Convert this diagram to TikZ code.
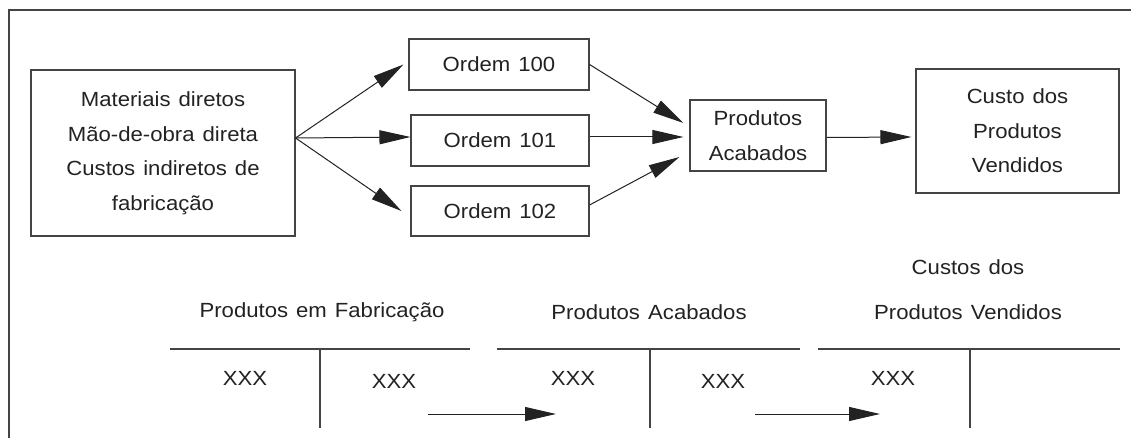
\documentclass[tikz,border=0pt]{standalone}
\usepackage{fontspec}
\setmainfont{Liberation Sans}[FakeStretch=1.08, WordSpace=1.3]
\usetikzlibrary{arrows.meta}
\definecolor{ink}{HTML}{222222}
\definecolor{rule}{HTML}{444444}
\tikzset{
  box/.style={draw=rule, line width=1.1pt, inner sep=0pt, align=center, text=ink,
    font=\fontsize{20.5}{34.5}\selectfont},
  arr/.style={draw=ink, line width=1pt, -{Triangle[length=31pt,width=14pt]}},
  lbl/.style={inner sep=0pt, align=center, text=ink, font=\fontsize{20.5}{45}\selectfont},
  tline/.style={draw=rule, line width=1.2pt},
  frameline/.style={draw=rule, line width=2pt}
}
\begin{document}
\begin{tikzpicture}[x=1pt,y=-1pt]
\useasboundingbox (0,0) rectangle (1131,438);
% frame
\draw[frameline] (1131,10) -- (9,10) -- (9,438);

% top flow
\node[box, minimum width=264pt, minimum height=166pt] (m) at (163,153)
  {Materiais diretos\\Mão-de-obra direta\\Custos indiretos de\\fabricação};
\node[box, minimum width=180pt, minimum height=51pt] (o100) at (499,64.5) {Ordem 100};
\node[box, minimum width=178pt, minimum height=51pt] (o101) at (500,140.5) {Ordem 101};
\node[box, minimum width=178pt, minimum height=50pt] (o102) at (500,211) {Ordem 102};
\node[box, minimum width=136pt, minimum height=71pt] (pa) at (758,135.5) {Produtos\\Acabados};
\node[box, minimum width=203pt, minimum height=124pt] (cpv) at (1017.5,131) {Custo dos\\Produtos\\Vendidos};

\coordinate (src) at ([yshift=15pt]m.east);
\draw[arr] (src) -- ([xshift=-5pt]o100.west);
\draw[arr] (src) -- ([yshift=3.5pt]o101.west);
\draw[arr] (src) -- ([xshift=-9pt]o102.west);

\draw[arr] (o100.east) -- ([xshift=-6pt,yshift=12.5pt]pa.west);
\draw[arr] ([yshift=3.5pt]o101.east) -- ([xshift=-6pt,yshift=-1.5pt]pa.west);
\draw[arr] ([yshift=6pt]o102.east) -- ([xshift=-10pt,yshift=-21.5pt]pa.west);

\draw[arr] ([yshift=-2pt]pa.east) -- ([xshift=-4pt,yshift=-6pt]cpv.west);

% T-accounts
\node[lbl] (t1) at (322,312) {Produtos em Fabricação};
\node[lbl] (t2) at (649,312) {Produtos\hspace{0.4em}Acabados};
\node[lbl] (t3) at (968,290) {Custos dos\\Produtos Vendidos};

\coordinate (l1a) at (170,349); \coordinate (l1b) at (470,349);
\coordinate (v1a) at (320,349); \coordinate (v1b) at (320,428);
\coordinate (l2a) at (497,349); \coordinate (l2b) at (800,349);
\coordinate (v2a) at (650,349); \coordinate (v2b) at (650,428);
\coordinate (l3a) at (818,349); \coordinate (l3b) at (1120,349);
\coordinate (v3a) at (970,349); \coordinate (v3b) at (970,428);
\draw[tline] (l1a) -- (l1b);
\draw[tline] (v1a) -- (v1b);
\draw[tline] (l2a) -- (l2b);
\draw[tline] (v2a) -- (v2b);
\draw[tline] (l3a) -- (l3b);
\draw[tline] (v3a) -- (v3b);

\node[lbl] (x1) at (245,378) {XXX};
\node[lbl] (x2) at (394,381) {XXX};
\node[lbl] (x3) at (573,378) {XXX};
\node[lbl] (x4) at (723,381) {XXX};
\node[lbl] (x5) at (893,378) {XXX};

\coordinate (a1s) at (428,414); \coordinate (a1e) at (556,414);
\coordinate (a2s) at (755,414); \coordinate (a2e) at (880,414);
\draw[arr] (a1s) -- (a1e);
\draw[arr] (a2s) -- (a2e);
\end{tikzpicture}
\end{document}
